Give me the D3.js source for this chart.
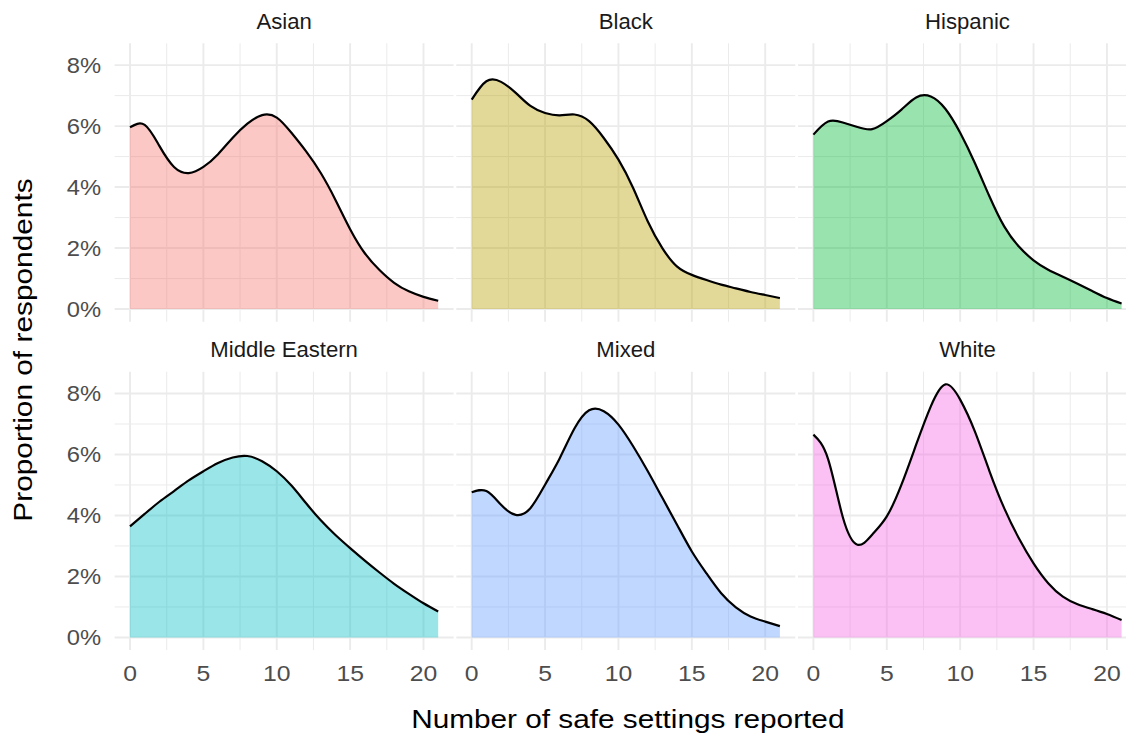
<!DOCTYPE html>
<html>
<head>
<meta charset="utf-8">
<script src="https://cdn.jsdelivr.net/npm/d3@7"></script>
<style>
  html, body { margin: 0; padding: 0; background: #ffffff; overflow: hidden; }
  svg { display: block; }
</style>
</head>
<body>
<svg id="chart" width="1126" height="736"></svg>
<script>
// Facet order (reading order, 3 columns x 2 rows)
const categories = ["Asian", "Black", "Hispanic", "Middle Eastern", "Mixed", "White"];

// Evaluation points: number of safe settings reported
const settings = [0, 1, 2, 3, 4, 5, 6, 7, 8, 9, 10, 11, 12, 13, 14, 15, 16, 17, 18, 19, 20, 21];

// Kernel density estimates, in percent of respondents, one per group
const asian        = [5.96, 6.04, 5.35, 4.66, 4.46, 4.66, 5.08, 5.62, 6.08, 6.36, 6.28, 5.78, 5.17, 4.46, 3.58, 2.62, 1.83, 1.28, 0.86, 0.58, 0.40, 0.27];
const black        = [6.87, 7.47, 7.45, 7.09, 6.66, 6.43, 6.35, 6.38, 6.16, 5.61, 4.90, 3.97, 2.87, 1.99, 1.39, 1.12, 0.95, 0.80, 0.68, 0.56, 0.46, 0.36];
const hispanic     = [5.72, 6.15, 6.12, 5.97, 5.90, 6.16, 6.54, 6.94, 6.97, 6.56, 5.78, 4.79, 3.69, 2.71, 2.05, 1.60, 1.29, 1.06, 0.83, 0.59, 0.36, 0.18];
const middleEast   = [3.64, 4.05, 4.45, 4.80, 5.15, 5.45, 5.72, 5.90, 5.95, 5.78, 5.45, 4.98, 4.40, 3.84, 3.36, 2.93, 2.52, 2.13, 1.76, 1.43, 1.12, 0.85];
const mixed        = [4.76, 4.80, 4.35, 4.02, 4.24, 5.01, 5.88, 6.85, 7.45, 7.42, 6.98, 6.27, 5.45, 4.57, 3.69, 2.82, 2.10, 1.45, 0.99, 0.69, 0.52, 0.37];
const white        = [6.65, 5.85, 3.95, 3.04, 3.37, 3.97, 5.01, 6.32, 7.58, 8.30, 7.80, 6.76, 5.45, 4.24, 3.25, 2.43, 1.78, 1.34, 1.09, 0.93, 0.77, 0.57];

const seriesValues = [asian, black, hispanic, middleEast, mixed, white];

// Default ggplot hue palette for six groups
const fills = ["#F8766D", "#B79F00", "#00BA38", "#00BFC4", "#619CFF", "#F564E3"];

// Axis breaks and labels
const xMajor = [0, 5, 10, 15, 20];
const xMinor = [2.5, 7.5, 12.5, 17.5];
const xTickLabels = ["0", "5", "10", "15", "20"];
const yMajor = [0, 2, 4, 6, 8];
const yMinor = [1, 3, 5, 7];
const yTickLabels = ["0%", "2%", "4%", "6%", "8%"];

const xTitle = "Number of safe settings reported";
const yTitle = "Proportion of respondents";

// ---- layout ----
const svg = d3.select("#chart");
const FONT = "'Liberation Sans', Arial, Helvetica, sans-serif";
const nCols = 3;
const panelLeft = 114.6, panelW = 339, gapX = 2.7;
const panelTop = 43.3, panelH = 278.4, gapY = 50;

// ggplot-style 5% expansion on both scales
const xMin = d3.min(settings), xMax = d3.max(settings);
const xPad = (xMax - xMin) * 0.05;
const yMaxData = d3.max(seriesValues.flat());
const yPad = yMaxData * 0.05;

function addText(parent, x, y, str, o) {
  return parent.append("text")
    .attr("transform", `translate(${x},${y})` + (o.rotate ? ` rotate(${o.rotate})` : "") + ` scale(${o.sx || 1},1)`)
    .attr("text-anchor", o.anchor || "middle")
    .attr("font-family", FONT)
    .attr("font-size", o.size)
    .attr("fill", o.color)
    .text(str);
}

categories.forEach((cat, i) => {
  const col = i % nCols, row = Math.floor(i / nCols);
  const left = panelLeft + col * (panelW + gapX);
  const top = panelTop + row * (panelH + gapY);

  const x = d3.scaleLinear().domain([xMin - xPad, xMax + xPad]).range([left, left + panelW]);
  const y = d3.scaleLinear().domain([-yPad, yMaxData + yPad]).range([top + panelH, top]);

  const g = svg.append("g").attr("class", "panel");

  // minor grid
  g.selectAll(".vminor").data(xMinor).join("line")
    .attr("x1", d => x(d)).attr("x2", d => x(d))
    .attr("y1", top).attr("y2", top + panelH)
    .attr("stroke", "#EBEBEB").attr("stroke-width", 1);
  g.selectAll(".hminor").data(yMinor).join("line")
    .attr("y1", d => y(d)).attr("y2", d => y(d))
    .attr("x1", left).attr("x2", left + panelW)
    .attr("stroke", "#EBEBEB").attr("stroke-width", 1);
  // major grid
  g.selectAll(".vmajor").data(xMajor).join("line")
    .attr("x1", d => x(d)).attr("x2", d => x(d))
    .attr("y1", top).attr("y2", top + panelH)
    .attr("stroke", "#EBEBEB").attr("stroke-width", 1.9);
  g.selectAll(".hmajor").data(yMajor).join("line")
    .attr("y1", d => y(d)).attr("y2", d => y(d))
    .attr("x1", left).attr("x2", left + panelW)
    .attr("stroke", "#EBEBEB").attr("stroke-width", 1.9);

  const pts = settings.map((s, k) => [s, seriesValues[i][k]]);
  const curve = d3.curveNatural;

  // filled density
  g.append("path")
    .datum(pts)
    .attr("d", d3.area().x(d => x(d[0])).y0(y(0)).y1(d => y(d[1])).curve(curve))
    .attr("fill", fills[i]).attr("fill-opacity", 0.4);

  // upper outline
  g.append("path")
    .datum(pts)
    .attr("d", d3.line().x(d => x(d[0])).y(d => y(d[1])).curve(curve))
    .attr("fill", "none").attr("stroke", "#000000").attr("stroke-width", 2.2)
    .attr("stroke-linejoin", "round");

  // strip label
  addText(svg, left + panelW / 2, top - 14.4, cat, { size: 21.5, color: "#1A1A1A", sx: 1.03 });

  // y tick labels on the first column
  if (col === 0) {
    yMajor.forEach((v, k) => {
      addText(svg, 101, y(v) + 7.8, yTickLabels[k], { size: 22, color: "#4D4D4D", anchor: "end", sx: 1.08 });
    });
  }
  // x tick labels on the bottom row
  if (row === 1) {
    xMajor.forEach((v, k) => {
      addText(svg, x(v), top + panelH + 30.7, xTickLabels[k], { size: 22.5, color: "#4D4D4D", sx: 1.1 });
    });
  }
});

// axis titles
const gridRight = panelLeft + nCols * panelW + (nCols - 1) * gapX;
addText(svg, (panelLeft + gridRight) / 2 + 2, 728.3, xTitle, { size: 25.5, color: "#000000", sx: 1.167 });
addText(svg, 32.3, 350, yTitle, { size: 25.5, color: "#000000", rotate: -90, sx: 1.17 });
</script>
</body>
</html>
